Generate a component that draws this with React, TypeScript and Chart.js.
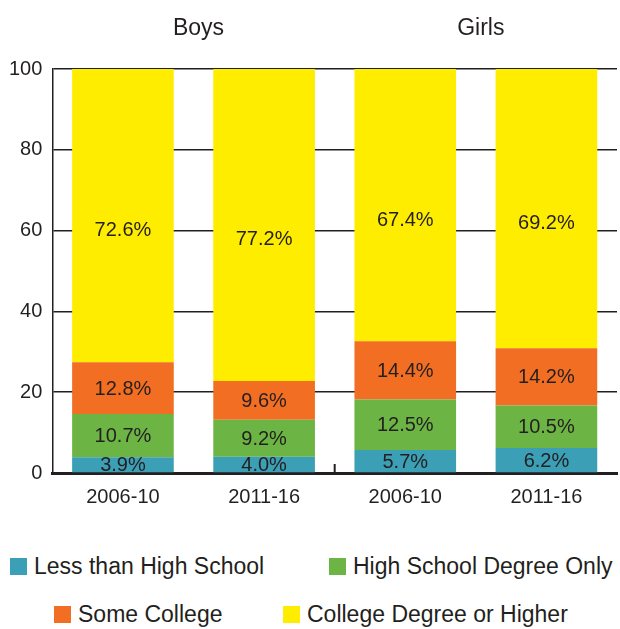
import React, { useEffect, useRef } from "react";
import { Chart, registerables } from "chart.js";

Chart.register(...registerables);

const categories = ["2006-10", "2011-16", "2006-10", "2011-16"];
const groups = ["Boys", "Girls"];
const lessThanHighSchool = [3.9, 4.0, 5.7, 6.2];
const highSchoolOnly = [10.7, 9.2, 12.5, 10.5];
const someCollege = [12.8, 9.6, 14.4, 14.2];
const collegeOrHigher = [72.6, 77.2, 67.4, 69.2];
const seriesNames = [
  "Less than High School",
  "High School Degree Only",
  "Some College",
  "College Degree or Higher",
];
const seriesColors = ["#3b9fb6", "#6cb443", "#f26e22", "#ffed00"];
const yTickValues = [0, 20, 40, 60, 80, 100];

const FONT = "'Liberation Sans', Arial, sans-serif";
const INK = "#231f20";

const labelPlugin = {
  id: "segmentLabels",
  afterDatasetsDraw(chart: any) {
    const ctx = chart.ctx;
    ctx.save();
    ctx.font = `20px ${FONT}`;
    ctx.fillStyle = INK;
    ctx.textAlign = "center";
    ctx.textBaseline = "middle";
    const last = chart.data.datasets.length - 1;
    chart.data.datasets.forEach((ds: any, di: number) => {
      const meta = chart.getDatasetMeta(di);
      meta.data.forEach((bar: any, i: number) => {
        const v = ds.data[i];
        let y = (bar.y + bar.base) / 2;
        if (di === last) y += 14;
        ctx.fillText(v.toFixed(1) + "%", bar.x, y + 1);
      });
    });
    ctx.restore();
  },
};

const dividerPlugin = {
  id: "groupDivider",
  afterDraw(chart: any) {
    const xs = chart.scales.x;
    const x = (xs.getPixelForValue(1) + xs.getPixelForValue(2)) / 2;
    const bottom = chart.chartArea.bottom;
    const ctx = chart.ctx;
    ctx.save();
    ctx.strokeStyle = INK;
    ctx.lineWidth = 2;
    ctx.beginPath();
    ctx.moveTo(x, bottom);
    ctx.lineTo(x, bottom - 9);
    ctx.stroke();
    ctx.restore();
  },
};

export default function App() {
  const ref = useRef<HTMLCanvasElement | null>(null);

  useEffect(() => {
    if (!ref.current) return;
    const values = [lessThanHighSchool, highSchoolOnly, someCollege, collegeOrHigher];
    const chart = new Chart(ref.current, {
      type: "bar",
      data: {
        labels: categories,
        datasets: values.map((d, i) => ({
          label: seriesNames[i],
          data: d,
          backgroundColor: seriesColors[i],
          borderWidth: 0,
          barPercentage: 0.72,
          categoryPercentage: 1,
          stack: "s",
        })),
      },
      options: {
        animation: false,
        responsive: true,
        maintainAspectRatio: false,
        layout: { padding: { left: -1, right: 3, top: -12.6, bottom: -2 } },
        plugins: {
          legend: { display: false },
          tooltip: { enabled: false },
        },
        scales: {
          x: {
            stacked: true,
            grid: { display: false, drawTicks: false },
            border: { display: true, color: INK, width: 3 },
            ticks: { font: { family: FONT, size: 20 }, color: INK, padding: 12.5 },
          },
          x2: {
            type: "category",
            position: "top",
            labels: groups,
            offset: true,
            grid: { display: false, drawTicks: false },
            border: { display: false },
            ticks: { font: { family: FONT, size: 23 }, color: INK, padding: 27, labelOffset: 5 },
          },
          y: {
            stacked: true,
            min: 0,
            max: 100,
            afterBuildTicks: (s: any) => {
              s.ticks = yTickValues.map((v) => ({ value: v }));
            },
            grid: { color: INK, lineWidth: 1.5, drawTicks: false },
            border: { display: true, color: INK, width: 1.5 },
            ticks: { font: { family: FONT, size: 20 }, color: INK, padding: 10 },
          },
        },
      },
      plugins: [labelPlugin, dividerPlugin],
    });
    return () => chart.destroy();
  }, []);

  const legendPos = [
    { left: 10, top: 558 },
    { left: 329, top: 558 },
    { left: 54, top: 606 },
    { left: 283, top: 606 },
  ];

  return (
    <div style={{ position: "absolute", left: 0, top: 0, width: 620, height: 629, background: "#fff" }}>
      <div style={{ position: "absolute", left: 0, top: 0, width: 620, height: 520 }}>
        <canvas ref={ref} />
      </div>
      {seriesNames.map((name, i) => (
        <div
          key={name}
          style={{
            position: "absolute",
            left: legendPos[i].left,
            top: legendPos[i].top,
            display: "flex",
            alignItems: "center",
            height: 17,
            fontFamily: FONT,
            fontSize: 23,
            color: INK,
            whiteSpace: "nowrap",
          }}
        >
          <span style={{ display: "inline-block", width: 17, height: 17, background: seriesColors[i], marginRight: 7 }} />
          <span>{name}</span>
        </div>
      ))}
    </div>
  );
}
